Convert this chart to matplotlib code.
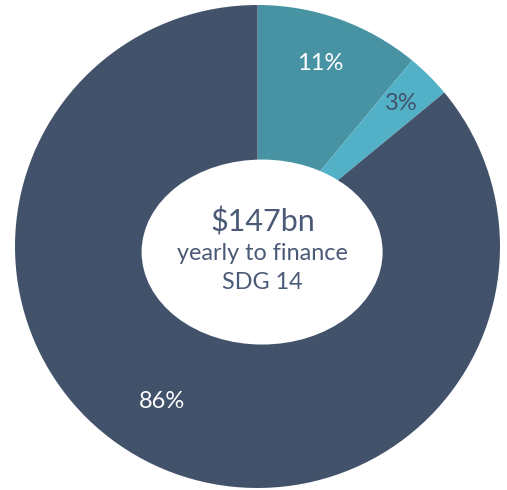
import numpy as np
import matplotlib.pyplot as plt
from matplotlib.patches import Ellipse

plt.rcParams['font.family'] = ['Lato', 'DejaVu Sans']

shares = [11, 3, 86]
labels = ['11%', '3%', '86%']
colors = ['#4793a3', '#52b1c6', '#43526b']
label_colors = ['white', '#43526b', 'white']
center_lines = ['$147bn', 'yearly to finance', 'SDG 14']

fig = plt.figure(figsize=(5.07, 4.90), dpi=100)
ax = fig.add_axes([15 / 507, 2 / 490, 485 / 507, 483 / 490])

wedges, _ = ax.pie(shares, colors=colors, startangle=90, counterclock=False,
                   wedgeprops=dict(linewidth=0))
ax.set_aspect('auto')
ax.set_xlim(-1, 1)
ax.set_ylim(-1, 1)
ax.axis('off')

# hole, slightly wider than tall
ax.add_patch(Ellipse((0.019, -0.023), 0.994, 0.766, facecolor='white',
                     edgecolor='none', zorder=3))

# percentage labels around the mid angle of each wedge
offsets = [1.0, 0.0, -6.3]
radii = [0.80, 0.84, 0.755]
for w, lab, c, off, r in zip(wedges, labels, label_colors, offsets, radii):
    ang = np.deg2rad((w.theta1 + w.theta2) / 2 + off)
    ax.text(r * np.cos(ang), r * np.sin(ang), lab, color=c, fontsize=17,
            ha='center', va='center', zorder=4)

txt_color = '#4b5a76'
ax.text(0.02, 0.10, center_lines[0], color=txt_color, fontsize=22,
        ha='center', va='center', zorder=4)
ax.text(0.02, -0.03, center_lines[1], color=txt_color, fontsize=16.8,
        ha='center', va='center', zorder=4)
ax.text(0.02, -0.15, center_lines[2], color=txt_color, fontsize=16.8,
        ha='center', va='center', zorder=4)

fig.savefig('out.png', dpi=100, facecolor='white')
